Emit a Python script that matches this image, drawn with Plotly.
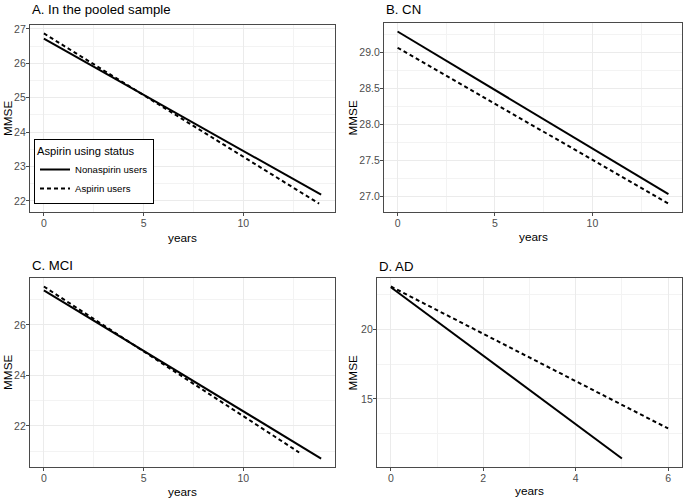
import plotly.graph_objects as go

# ---- data ----
# Panel A: pooled sample
a_years_non = [0, 13.9]
a_mmse_non = [26.72, 22.18]
a_years_asp = [0, 13.8]
a_mmse_asp = [26.87, 21.92]
# Panel B: CN
b_years_non = [0, 13.9]
b_mmse_non = [29.285, 27.03]
b_years_asp = [0, 13.9]
b_mmse_asp = [29.06, 26.90]
# Panel C: MCI
c_years_non = [0, 13.9]
c_mmse_non = [27.37, 20.71]
c_years_asp = [0, 12.8]
c_mmse_asp = [27.52, 20.95]
# Panel D: AD
d_years_non = [0, 5.0]
d_mmse_non = [23.0, 10.74]
d_years_asp = [0, 6.0]
d_mmse_asp = [23.05, 12.89]

panel_titles = ["A. In the pooled sample", "B. CN", "C. MCI", "D. AD"]
series_names = ["Nonaspirin users", "Aspirin users"]
legend_title = "Aspirin using status"
x_title = "years"
y_title = "MMSE"

panels = [
    (a_years_non, a_mmse_non, a_years_asp, a_mmse_asp),
    (b_years_non, b_mmse_non, b_years_asp, b_mmse_asp),
    (c_years_non, c_mmse_non, c_years_asp, c_mmse_asp),
    (d_years_non, d_mmse_non, d_years_asp, d_mmse_asp),
]

W, H = 684, 501
FONT = "Arial, Liberation Sans, sans-serif"

# panel boxes in pixels (left, right, top, bottom)
boxes = [
    (30, 335, 23, 211),
    (384, 682, 21, 211),
    (30, 335, 277, 467),
    (377, 682, 277, 467),
]
# text positions in pixels: panel title centre y, x-title centre y, y-title centre x
title_y = [8, 8, 265, 265.5]
xtitle_y = [237, 236, 492, 490.5]
ytitle_x = [7.5, 353, 7.5, 353]

x_ticks = [dict(dtick=5, minor=2.5), dict(dtick=5, minor=2.5),
           dict(dtick=5, minor=2.5), dict(dtick=2, minor=1)]
y_ticks = [dict(dtick=1, minor=0.5, fmt=""), dict(dtick=0.5, minor=0.25, fmt=".1f"),
           dict(dtick=2, minor=1, fmt=""), dict(dtick=5, minor=2.5, fmt="")]


def expand(vals):
    lo, hi = min(vals), max(vals)
    pad = (hi - lo) * 0.05
    return [lo - pad, hi + pad]


fig = go.Figure()
layout = dict(
    width=W, height=H,
    margin=dict(l=0, r=0, t=0, b=0),
    paper_bgcolor="white", plot_bgcolor="white",
    font=dict(family=FONT, color="black"),
    showlegend=True,
    annotations=[],
)

for i, (xn, yn, xa, ya) in enumerate(panels):
    k = "" if i == 0 else str(i + 1)
    xref, yref = "x" + k, "y" + k
    fig.add_trace(go.Scatter(
        x=xn, y=yn, mode="lines", name=series_names[0],
        line=dict(color="black", width=2, dash="solid"),
        xaxis=xref, yaxis=yref, showlegend=(i == 0), legendgroup="non"))
    fig.add_trace(go.Scatter(
        x=xa, y=ya, mode="lines", name=series_names[1],
        line=dict(color="black", width=2, dash="4px,3px"),
        xaxis=xref, yaxis=yref, showlegend=(i == 0), legendgroup="asp"))

    l, r, t, b = boxes[i]
    xr = expand(xn + xa)
    yr = expand(yn + ya)
    common = dict(
        showline=True, mirror=True, linecolor="#4a4a4a", linewidth=1.2,
        showgrid=True, gridcolor="#EBEBEB", gridwidth=1,
        zeroline=False, ticks="outside", ticklen=3, tickcolor="#4a4a4a",
        tickfont=dict(family=FONT, size=10.5, color="#4D4D4D"),
    )
    layout["xaxis" + k] = dict(
        common, domain=[l / W, r / W], anchor=yref, range=xr,
        tick0=0, dtick=x_ticks[i]["dtick"], ticklabelstandoff=-2,
        minor=dict(showgrid=True, gridcolor="#F3F3F3", gridwidth=0.6,
                   tick0=0, dtick=x_ticks[i]["minor"]),
    )
    layout["yaxis" + k] = dict(
        common, domain=[1 - b / H, 1 - t / H], anchor=xref, range=yr,
        tick0=0, dtick=y_ticks[i]["dtick"], tickformat=y_ticks[i]["fmt"],
        ticklabelstandoff=-2,
        minor=dict(showgrid=True, gridcolor="#F3F3F3", gridwidth=0.6,
                   tick0=0, dtick=y_ticks[i]["minor"]),
    )
    layout["annotations"].append(dict(
        text=panel_titles[i], xref="paper", yref="paper",
        x=l / W, y=1 - title_y[i] / H, xanchor="left", yanchor="middle",
        showarrow=False, font=dict(family=FONT, size=13.2, color="black")))
    layout["annotations"].append(dict(
        text=x_title, xref="paper", yref="paper",
        x=(l + r) / 2 / W, y=1 - xtitle_y[i] / H, xanchor="center", yanchor="middle",
        showarrow=False, font=dict(family=FONT, size=11.8, color="black")))
    layout["annotations"].append(dict(
        text=y_title, xref="paper", yref="paper", textangle=-90,
        x=ytitle_x[i] / W, y=1 - (t + b) / 2 / H, xanchor="center", yanchor="middle",
        showarrow=False, font=dict(family=FONT, size=11.8, color="black")))

layout["legend"] = dict(
    x=34 / W, y=1 - 138 / H, xanchor="left", yanchor="top",
    bgcolor="white", bordercolor="black", borderwidth=1,
    title=dict(text=legend_title, font=dict(family=FONT, size=11.2)),
    font=dict(family=FONT, size=9.6), itemwidth=30,
    tracegroupgap=0,
)

fig.update_layout(**layout)
fig.write_html(
    "out.html",
    config={"displayModeBar": False},
    post_script="document.body.style.margin='0';document.body.style.padding='0';",
)
